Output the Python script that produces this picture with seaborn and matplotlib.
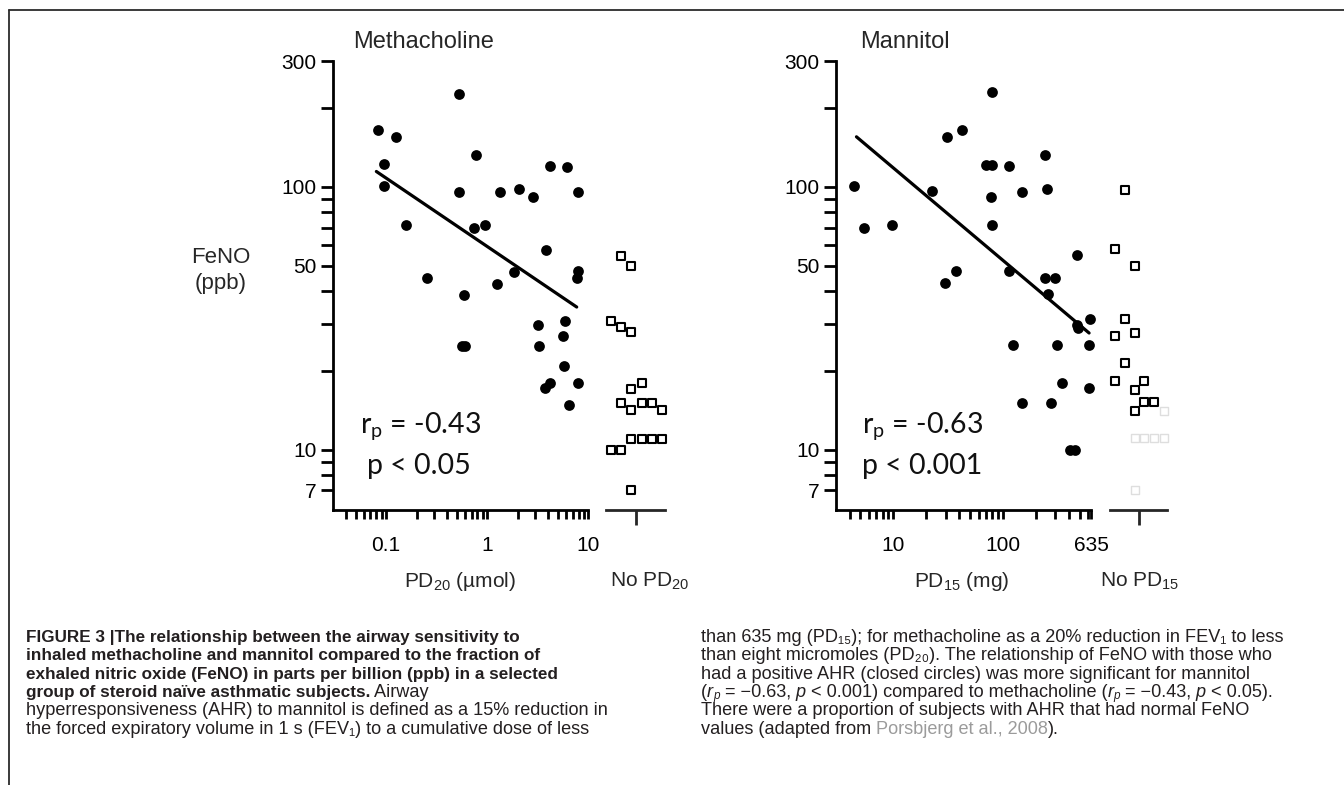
import matplotlib
matplotlib.use("Agg")
import matplotlib.pyplot as plt
import seaborn as sns
import numpy as np
import pandas as pd
from matplotlib.ticker import FixedLocator, FixedFormatter, NullFormatter
from matplotlib.lines import Line2D

# ---------------- data ----------------
meth_pd20 = [0.526, 0.084, 0.125, 0.768, 0.095, 4.2, 6.2, 0.095, 0.526, 1.33, 2.05, 2.81,
             7.9, 0.157, 0.739, 0.949, 3.8, 1.83, 7.9, 7.68, 0.253, 1.24, 0.589, 5.89,
             3.17, 5.59, 0.56, 0.60, 3.22, 5.77, 4.2, 3.75, 7.9, 6.5]
meth_feno = [226, 164, 155, 132, 122, 120, 119.5, 101, 96, 95.5, 98, 91.2,
             96, 71.4, 69.8, 71.4, 57.7, 47.5, 47.8, 44.9, 44.9, 42.8, 38.8, 30.9,
             29.8, 27.0, 24.9, 24.9, 24.9, 20.9, 18.0, 17.2, 17.9, 14.8]
meth_fit_x = [0.08, 7.68]
meth_fit_y = [114.4, 34.9]
meth_nopd_slot = [-1, 0, -2, -1, 0, 1, 0, -1, 0, 1, 2, 3, 0, 1, 2, 3, -2, -1, 0]
meth_nopd_feno = [54.4, 50.0, 30.9, 29.3, 28.0, 18.0, 17.0, 15.1, 14.2, 15.1, 15.1, 14.2,
                  11.0, 11.0, 11.0, 11.0, 10.0, 10.0, 7.0]

mann_pd15 = [79.9, 30.6, 41.9, 242, 69.9, 79.9, 114.3, 4.36, 22.3, 77.2, 148, 250.6,
             5.42, 9.63, 78.8, 471, 37.2, 29.5, 114.3, 242, 298.5, 256, 471, 481,
             623, 124.3, 309, 614, 343, 614, 148, 274.5, 404.6, 449.8]
mann_feno = [229, 155, 165, 132, 121, 121, 120, 100.5, 96.5, 91.6, 95.6, 98.4,
             69.5, 71.5, 71.5, 55.1, 47.9, 43.0, 47.9, 45.2, 45.2, 39.2, 29.9, 29.1,
             31.3, 25.0, 25.0, 25.0, 18.0, 17.1, 15.0, 15.0, 10.0, 10.0]
mann_fit_x = [4.61, 610]
mann_fit_y = [155, 27.8]
mann_nopd_slot = [-1, -2, 0, -1, -2, 0, -1, -2, 1, 0, 1, 2, 0]
mann_nopd_feno = [96.9, 57.8, 50.0, 31.3, 27.1, 27.9, 21.3, 18.3, 18.3, 16.9, 15.2, 15.2, 14.1]
mann_ghost_slot = [3, 0, 1, 2, 3, 0]
mann_ghost_feno = [14.1, 11.1, 11.1, 11.1, 11.1, 7.0]

y_ticks = [7, 10, 50, 100, 300]
y_minor = [8, 9, 20, 30, 40, 60, 70, 80, 90, 200]
meth_xticks = [0.1, 1, 10]
meth_xlabels = ["0.1", "1", "10"]
meth_xminor = [0.04, 0.05, 0.06, 0.07, 0.08, 0.09, 0.2, 0.3, 0.4, 0.5, 0.6, 0.7, 0.8, 0.9,
               2, 3, 4, 5, 6, 7, 8, 9]
mann_xticks = [10, 100, 635]
mann_xlabels = ["10", "100", "635"]
mann_xminor = [4, 5, 6, 7, 8, 9, 20, 30, 40, 50, 60, 70, 80, 90, 200, 300, 400, 500, 600]

# ---------------- style ----------------
sns.set_style("ticks")
plt.rcParams["font.family"] = ["Liberation Sans", "DejaVu Sans"]
plt.rcParams["mathtext.default"] = "regular"

W, H = 1344, 785
fig = plt.figure(figsize=(W / 100, H / 100), dpi=100)
fig.patch.set_facecolor("white")


def rect(left, top, right, bottom):
    return [left / W, 1 - bottom / H, (right - left) / W, (bottom - top) / H]


AX_TOP, AX_BOT = 61.4, 510
ax_m = fig.add_axes(rect(333.3, AX_TOP, 588.3, AX_BOT))
ax_mc = fig.add_axes(rect(606, AX_TOP, 665, AX_BOT), sharey=ax_m)
ax_n = fig.add_axes(rect(836, AX_TOP, 1091, AX_BOT))
ax_nc = fig.add_axes(rect(1110, AX_TOP, 1167, AX_BOT), sharey=ax_n)

LW = 2.0
COL0, COLW = -0.14, 0.35

for ax, xl, xt, xtl, xmin in [(ax_m, (0.03, 10), meth_xticks, meth_xlabels, meth_xminor),
                              (ax_n, (3, 635), mann_xticks, mann_xlabels, mann_xminor)]:
    ax.set_xscale("log")
    ax.set_yscale("log")
    ax.set_xlim(*xl)
    ax.set_ylim(5.9, 300)
    ax.xaxis.set_major_locator(FixedLocator(xt))
    ax.xaxis.set_major_formatter(FixedFormatter(xtl))
    ax.xaxis.set_minor_locator(FixedLocator(xmin))
    ax.xaxis.set_minor_formatter(NullFormatter())
    ax.yaxis.set_major_locator(FixedLocator(y_ticks))
    ax.yaxis.set_major_formatter(FixedFormatter([str(v) for v in y_ticks]))
    ax.yaxis.set_minor_locator(FixedLocator(y_minor))
    ax.yaxis.set_minor_formatter(NullFormatter())
    for s in ["top", "right"]:
        ax.spines[s].set_visible(False)
    for s in ["left", "bottom"]:
        ax.spines[s].set_linewidth(LW)
        ax.spines[s].set_color("black")
    ax.tick_params(axis="y", which="both", length=8.4, width=LW, pad=3.6, labelsize=15, colors="black")
    ax.tick_params(axis="x", which="both", length=6.5, width=LW, pad=12, labelsize=15, colors="black")
    ax.set_facecolor("none")

for ax in (ax_mc, ax_nc):
    ax.set_xlim(-1, 1)
    for s in ["top", "right", "left"]:
        ax.spines[s].set_visible(False)
    ax.spines["bottom"].set_linewidth(LW)
    ax.tick_params(axis="y", which="both", left=False, labelleft=False)
    ax.xaxis.set_major_locator(FixedLocator([0]))
    ax.xaxis.set_minor_locator(FixedLocator([]))
    ax.tick_params(axis="x", which="both", length=11, width=LW, labelbottom=False)
    ax.set_facecolor("none")

# closed circles
sns.scatterplot(x=meth_pd20, y=meth_feno, ax=ax_m, color="black", s=60, linewidth=0,
                marker="o", clip_on=False, zorder=3, legend=False)
sns.scatterplot(x=mann_pd15, y=mann_feno, ax=ax_n, color="black", s=60, linewidth=0,
                marker="o", clip_on=False, zorder=3, legend=False)
# regression lines
sns.lineplot(x=meth_fit_x, y=meth_fit_y, ax=ax_m, color="black", linewidth=2.3, legend=False)
sns.lineplot(x=mann_fit_x, y=mann_fit_y, ax=ax_n, color="black", linewidth=2.3, legend=False)

# open squares (no PD)
mx = [COL0 + COLW * c for c in meth_nopd_slot]
nx = [COL0 + COLW * c for c in mann_nopd_slot]
gx = [COL0 + COLW * c for c in mann_ghost_slot]
sns.scatterplot(x=mx, y=meth_nopd_feno, ax=ax_mc, marker="s", s=36, color="white",
                edgecolor="black", linewidth=1.5, clip_on=False, zorder=3, legend=False)
sns.scatterplot(x=gx, y=mann_ghost_feno, ax=ax_nc, marker="s", s=36, color="white",
                edgecolor="#dedede", linewidth=1.0, clip_on=False, zorder=2, legend=False)
sns.scatterplot(x=nx, y=mann_nopd_feno, ax=ax_nc, marker="s", s=36, color="white",
                edgecolor="black", linewidth=1.5, clip_on=False, zorder=3, legend=False)

for ax in (ax_m, ax_mc, ax_n, ax_nc):
    ax.set_xlabel("")
    ax.set_ylabel("")
ax_m.set_ylim(5.9, 300)
ax_n.set_ylim(5.9, 300)


def ftxt(x, y, s, **kw):
    return fig.text(x / W, 1 - y / H, s, **kw)


# titles and labels
ftxt(353, 48, "Methacholine", fontsize=17, ha="left", va="baseline")
ftxt(860, 48, "Mannitol", fontsize=17, ha="left", va="baseline")
ftxt(221, 258, "FeNO", fontsize=16, ha="center", va="center")
ftxt(221, 284, "(ppb)", fontsize=16, ha="center", va="center")
ftxt(460, 587, "PD$_{20}$ (µmol)", fontsize=15, ha="center", va="baseline")
ftxt(610, 587, "No PD$_{20}$", fontsize=15, ha="left", va="baseline")
ftxt(962, 587, "PD$_{15}$ (mg)", fontsize=15, ha="center", va="baseline")
ftxt(1100, 587, "No PD$_{15}$", fontsize=15, ha="left", va="baseline")

stat_font = dict(fontsize=20.5, family=["Lato", "DejaVu Sans"], ha="left", va="baseline", color="#111111")
ftxt(360, 432, "r$_{p}$ = -0.43", **stat_font)
ftxt(366.7, 474, "p < 0.05", **stat_font)
ftxt(861.7, 432, "r$_{p}$ = -0.63", **stat_font)
ftxt(861.7, 474, "p < 0.001", **stat_font)

# border lines
fig.add_artist(Line2D([9 / W, 1], [1 - 10 / H, 1 - 10 / H], transform=fig.transFigure,
                      color="#2b2b2b", linewidth=1.3))
fig.add_artist(Line2D([9 / W, 9 / W], [1 - 10 / H, 0], transform=fig.transFigure,
                      color="#2b2b2b", linewidth=1.3))

# ---------------- caption ----------------
CAP = ["Liberation Sans", "DejaVu Sans"]
CS = 13.1
renderer = fig.canvas.get_renderer()
TXT = "#231f20"


def segline(x, y, segs):
    cx = x
    for s, kw in segs:
        opts = dict(fontsize=CS, family=CAP, color=TXT, ha="left", va="baseline")
        opts.update(kw)
        dy = opts.pop("dy", 0)
        t = ftxt(cx, y + dy, s, **opts)
        bb = t.get_window_extent(renderer=renderer)
        cx = bb.x1


B = dict(weight="bold", fontsize=12.3)
R = {}
I = dict(style="italic")
SUB = dict(style="italic", fontsize=8.5, dy=2.2)
G = dict(color="#9b9b9b")
ys = [642, 660.3, 678.6, 696.9, 715.2, 733.5]
left_lines = [
    [("FIGURE 3 |The relationship between the airway sensitivity to", B)],
    [("inhaled methacholine and mannitol compared to the fraction of", B)],
    [("exhaled nitric oxide (FeNO) in parts per billion (ppb) in a selected", B)],
    [("group of steroid naïve asthmatic subjects.", B), (" Airway", R)],
    [("hyperresponsiveness (AHR) to mannitol is defined as a 15% reduction in", R)],
    [("the forced expiratory volume in 1 s (FEV\u2081) to a cumulative dose of less", R)],
]
right_lines = [
    [("than 635 mg (PD\u2081\u2085); for methacholine as a 20% reduction in FEV\u2081 to less", R)],
    [("than eight micromoles (PD\u2082\u2080). The relationship of FeNO with those who", R)],
    [("had a positive AHR (closed circles) was more significant for mannitol", R)],
    [("(", R), ("r", I), ("p", SUB), (" = \u22120.63,", R), (" p", I),
     (" < 0.001) compared to methacholine (", R),
     ("r", I), ("p", SUB), (" = \u22120.43,", R), (" p", I), (" < 0.05).", R)],
    [("There were a proportion of subjects with AHR that had normal FeNO", R)],
    [("values (adapted from", R), (" Porsbjerg et al., 2008", G), (").", R)],
]
for y, segs in zip(ys, left_lines):
    segline(26, y, segs)
for y, segs in zip(ys, right_lines):
    segline(701, y, segs)

fig.savefig("out.png", dpi=100, facecolor="white")
